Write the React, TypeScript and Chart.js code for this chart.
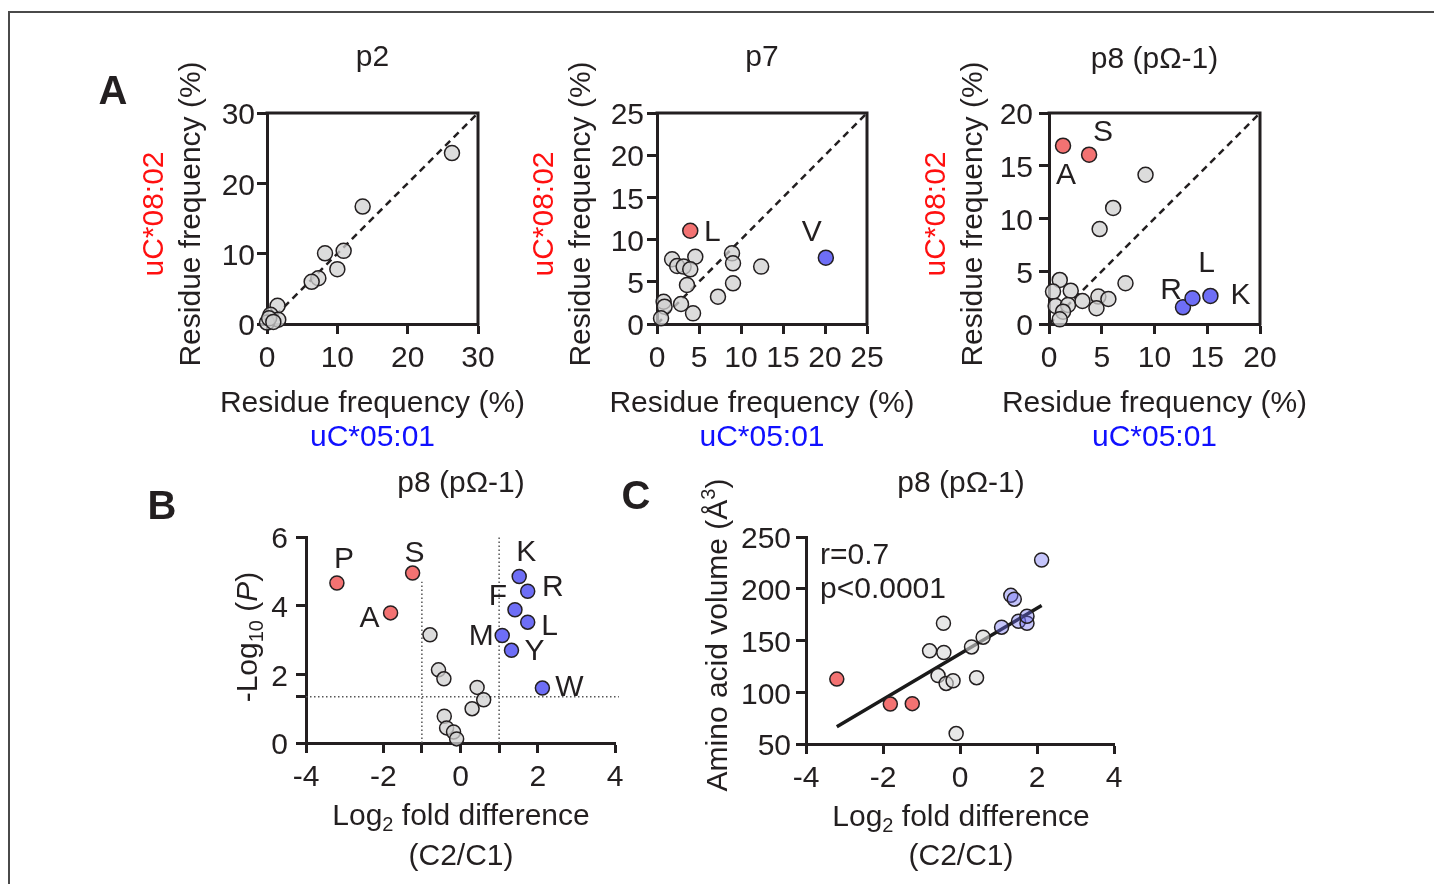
import React, { useEffect, useRef } from 'react';
import { Chart, registerables } from 'chart.js';
Chart.register(...registerables);

const W = 1434;
const H = 884;
const FONT = '"Liberation Sans", Arial, Helvetica, sans-serif';
const INK = '#231f20';
const RED = '#f37272';
const BLUE = '#6e6ef6';
const BLUE_T = 'rgba(110,110,246,0.4)';
const GRAY = 'rgba(208,208,208,0.75)';

// ---------- Panel A: residue frequency (%) uC*05:01 (x) vs uC*08:02 (y)
const p2Ticks = [0, 10, 20, 30];
const p2GrayX = [26.3, 13.6, 10.9, 8.25, 10.0, 7.3, 6.35, 1.5, 0.5, 1.6, 0.0, 0.3, 0.9];
const p2GrayY = [24.3, 16.7, 10.4, 10.05, 7.8, 6.5, 6.0, 2.6, 1.3, 0.6, 0.2, 0.8, 0.3];

const p7Ticks = [0, 5, 10, 15, 20, 25];
const p7GrayX = [1.8, 4.56, 2.4, 3.17, 3.96, 3.57, 8.93, 9.05, 9.05, 12.4, 7.26, 2.86, 4.29, 0.79, 0.9, 0.48];
const p7GrayY = [7.67, 7.97, 6.87, 6.8, 6.48, 4.62, 8.37, 7.19, 4.82, 6.8, 3.24, 2.37, 1.26, 2.64, 2.05, 0.67];
const p7RedNames = ['L'];
const p7RedX = [3.96];
const p7RedY = [11.05];
const p7BlueNames = ['V'];
const p7BlueX = [20.1];
const p7BlueY = [7.86];

const p8Ticks = [0, 5, 10, 15, 20];
const p8GrayX = [9.15, 6.08, 4.8, 7.25, 4.68, 5.63, 4.5, 3.17, 2.06, 1.02, 0.38, 0.63, 1.8, 1.33, 1.02];
const p8GrayY = [14.15, 11.0, 9.0, 3.86, 2.6, 2.37, 1.5, 2.18, 3.16, 4.18, 3.07, 1.71, 1.8, 1.17, 0.44];
const p8RedNames = ['A', 'S'];
const p8RedX = [1.33, 3.8];
const p8RedY = [16.9, 16.05];
const p8BlueNames = ['R', 'L', 'K'];
const p8BlueX = [12.7, 13.6, 15.3];
const p8BlueY = [1.58, 2.44, 2.66];

// ---------- Panels B & C: per-residue values at p8 (pΩ-1)
const residues = ['P', 'A', 'S', 'V', 'T', 'I', 'E', 'C', 'D', 'G', 'Q', 'N', 'H', 'M', 'Y', 'F', 'K', 'L', 'R', 'W'];
const residueGroup = ['c08', 'c08', 'c08', 'ns', 'ns', 'ns', 'ns', 'ns', 'ns', 'ns', 'ns', 'ns', 'ns', 'c05', 'c05', 'c05', 'c05', 'c05', 'c05', 'c05'];
const log2Fold = [-3.2, -1.81, -1.24, -0.79, -0.57, -0.43, -0.42, -0.36, -0.18, -0.1, 0.3, 0.43, 0.6, 1.08, 1.32, 1.41, 1.52, 1.74, 1.74, 2.12];
const negLog10P = [4.66, 3.79, 4.95, 3.15, 2.13, 1.87, 0.78, 0.44, 0.32, 0.12, 1.0, 1.62, 1.26, 3.13, 2.7, 3.88, 4.85, 3.52, 4.42, 1.6];
const volumeA3 = [112.7, 88.6, 89.0, 140.0, 116.1, 166.7, 138.4, 108.5, 111.1, 60.1, 143.8, 114.1, 153.2, 162.9, 193.6, 189.9, 168.6, 166.7, 173.4, 227.8];

const volcanoXTicks = [-4, -2, -1, 0, 1, 2, 4];
const volcanoXLabels = [-4, -2, 0, 2, 4];
const sigLevel = 1.35;
const volcanoYTicks = [0, sigLevel, 2, 4, 6];
const volcanoYLabels = [0, 2, 4, 6];
const foldCutoffs = [-1, 1];
const foldCutoffTop = [4.7, 6];
const sigLineX = [-4, 4.1];

const volXTicks = [-4, -2, 0, 2, 4];
const volYTicks = [50, 100, 150, 200, 250];
const fitLineX = [-3.2, 2.12];
const fitLineY = [66.7, 183.8];

// ---------- helpers
type Seg = { t: string; sub?: boolean; sup?: boolean; italic?: boolean };
type TextItem = { segs: Seg[] | string; x: number; y: number; color?: string; size?: number; bold?: boolean; rotate?: boolean; align?: 'center' | 'left' };
type PLabel = { ds: number; i: number; text: string; dx: number; dy: number };
type AxisSpec = { min: number; max: number; ticks: number[]; labels: number[]; pad: number };
type Spec = { area: { l: number; t: number; r: number; b: number }; x: AxisSpec; y: AxisSpec; datasets: any[]; box?: boolean; texts: TextItem[]; pLabels?: PLabel[] };

const TEXT_SHIFT = 2;

function drawRich(ctx: CanvasRenderingContext2D, item: TextItem) {
  const size = item.size ?? 30;
  const segs: Seg[] = typeof item.segs === 'string' ? [{ t: item.segs }] : item.segs;
  ctx.save();
  ctx.fillStyle = item.color ?? INK;
  ctx.textBaseline = 'middle';
  ctx.textAlign = 'left';
  const fontFor = (sg: Seg) => `${sg.italic ? 'italic ' : ''}${item.bold ? 'bold ' : ''}${sg.sub || sg.sup ? Math.round(size * 0.66) : size}px ${FONT}`;
  let total = 0;
  const widths = segs.map((sg) => {
    ctx.font = fontFor(sg);
    const w = ctx.measureText(sg.t).width;
    total += w;
    return w;
  });
  ctx.translate(item.x, item.y);
  if (item.rotate) ctx.rotate(-Math.PI / 2);
  let x = item.align === 'left' ? 0 : -total / 2;
  segs.forEach((sg, i) => {
    ctx.font = fontFor(sg);
    const dy = (sg.sub ? size * 0.28 : sg.sup ? -size * 0.33 : 0) + TEXT_SHIFT;
    ctx.fillText(sg.t, x, dy);
    x += widths[i];
  });
  ctx.restore();
}

const AW = 100;
const AH = 100;

function scaleOpts(axis: 'x' | 'y', a: AxisSpec) {
  return {
    type: 'linear',
    min: a.min,
    max: a.max,
    afterBuildTicks: (s: any) => {
      s.ticks = a.ticks.map((v) => ({ value: v }));
    },
    afterFit: (s: any) => {
      if (axis === 'x') s.height = AH;
      else s.width = AW;
      s.paddingTop = 0;
      s.paddingBottom = 0;
      s.paddingLeft = 0;
      s.paddingRight = 0;
    },
    ticks: {
      autoSkip: false,
      maxRotation: 0,
      minRotation: 0,
      color: INK,
      padding: a.pad,
      labelOffset: axis === 'y' ? 3 : 0,
      font: { family: FONT, size: 30 },
      callback: (v: number) => (a.labels.includes(v) ? String(v) : ''),
    },
    grid: { drawOnChartArea: false, drawTicks: true, tickLength: 10, tickWidth: 3, tickColor: INK },
    border: { display: true, width: 3, color: INK },
    title: { display: false },
  };
}

function buildConfig(s: Spec): any {
  const { l, t, r, b } = s.area;
  const textPlugin = {
    id: 'texts',
    afterDraw(chart: any) {
      const ctx: CanvasRenderingContext2D = chart.ctx;
      const ca = chart.chartArea;
      if (s.box) {
        ctx.save();
        ctx.strokeStyle = INK;
        ctx.lineWidth = 3;
        ctx.lineCap = 'square';
        ctx.beginPath();
        ctx.moveTo(ca.left, ca.top);
        ctx.lineTo(ca.right, ca.top);
        ctx.lineTo(ca.right, ca.bottom);
        ctx.stroke();
        ctx.restore();
      }
      (s.pLabels || []).forEach((pl) => {
        const el = chart.getDatasetMeta(pl.ds).data[pl.i];
        if (!el) return;
        drawRich(ctx, { segs: pl.text, x: el.x + pl.dx, y: el.y + pl.dy - TEXT_SHIFT, size: 30 });
      });
      s.texts.forEach((tx) => drawRich(ctx, tx));
    },
  };
  return {
    type: 'scatter',
    data: { datasets: s.datasets },
    options: {
      responsive: false,
      maintainAspectRatio: false,
      animation: false,
      devicePixelRatio: 1,
      events: [],
      layout: { padding: { left: l - AW, top: t, right: W - r, bottom: H - b - AH } },
      plugins: { legend: { display: false }, tooltip: { enabled: false }, title: { display: false } },
      scales: { x: scaleOpts('x', s.x), y: scaleOpts('y', s.y) },
    },
    plugins: [textPlugin],
  };
}

const pts = (xs: number[], ys: number[]) => xs.map((x, i) => ({ x, y: ys[i] }));

function pointDs(data: any[], fill: string, radius: number) {
  return {
    data,
    backgroundColor: fill,
    borderColor: INK,
    borderWidth: 1.5,
    pointRadius: radius,
    clip: false,
    order: 0,
  };
}

function lineDs(data: any[], color: string, width: number, dash: number[]) {
  return {
    data,
    showLine: true,
    borderColor: color,
    borderWidth: width,
    borderDash: dash,
    pointRadius: 0,
    clip: false,
    order: 5,
  };
}

function diagDs(max: number) {
  return lineDs([{ x: 0, y: 0 }, { x: max, y: max }], INK, 2.5, [7, 5]);
}

function aTexts(l: number, r: number, title: string | Seg[], titleY: number, letter?: boolean): TextItem[] {
  const cx = (l + r) / 2;
  const out: TextItem[] = [
    { segs: title, x: cx, y: titleY },
    { segs: 'Residue frequency (%)', x: cx, y: 402 },
    { segs: 'uC*05:01', x: cx, y: 436, color: '#1010ff' },
    { segs: 'Residue frequency (%)', x: l - 77, y: 214, rotate: true },
    { segs: 'uC*08:02', x: l - 114, y: 214, rotate: true, color: '#ff1010' },
  ];
  if (letter) out.push({ segs: 'A', x: 113, y: 91, bold: true, size: 40 });
  return out;
}

const omegaTitle: Seg[] = [{ t: 'p8 (p\u03A9-1)' }];

function grp(g: string) {
  return residues.map((_, i) => i).filter((i) => residueGroup[i] === g);
}

const bLabelOffsets: Record<string, [number, number]> = {
  P: [7, -23], S: [2, -19], A: [-21, 6], K: [7, -24], R: [25, -4],
  F: [-17, -13], L: [22, 5], M: [-21, 1], Y: [23, 1], W: [27, 0],
};

function buildSpecs(): Spec[] {
  const specs: Spec[] = [];
  // A - p2
  specs.push({
    area: { l: 267, t: 113, r: 478, b: 324 },
    x: { min: 0, max: 30, ticks: p2Ticks, labels: p2Ticks, pad: 7 },
    y: { min: 0, max: 30, ticks: p2Ticks, labels: p2Ticks, pad: 2 },
    box: true,
    datasets: [diagDs(30), pointDs(pts(p2GrayX, p2GrayY), GRAY, 7.5)],
    texts: aTexts(267, 478, 'p2', 56, true),
  });
  // A - p7
  specs.push({
    area: { l: 657, t: 113, r: 867, b: 324 },
    x: { min: 0, max: 25, ticks: p7Ticks, labels: p7Ticks, pad: 7 },
    y: { min: 0, max: 25, ticks: p7Ticks, labels: p7Ticks, pad: 3 },
    box: true,
    datasets: [
      diagDs(25),
      pointDs(pts(p7GrayX, p7GrayY), GRAY, 7.5),
      pointDs(pts(p7RedX, p7RedY), RED, 7.5),
      pointDs(pts(p7BlueX, p7BlueY), BLUE, 7.5),
    ],
    pLabels: [
      { ds: 2, i: 0, text: p7RedNames[0], dx: 22, dy: 2 },
      { ds: 3, i: 0, text: p7BlueNames[0], dx: -14, dy: -25 },
    ],
    texts: aTexts(657, 867, 'p7', 56),
  });
  // A - p8
  const p8Off: Record<string, [number, number]> = { A: [3, 30], S: [14, -22], R: [-12, -17], L: [14, -35], K: [30, 0] };
  specs.push({
    area: { l: 1049, t: 113, r: 1260, b: 324 },
    x: { min: 0, max: 20, ticks: p8Ticks, labels: p8Ticks, pad: 7 },
    y: { min: 0, max: 20, ticks: p8Ticks, labels: p8Ticks, pad: 6 },
    box: true,
    datasets: [
      diagDs(20),
      pointDs(pts(p8GrayX, p8GrayY), GRAY, 7.5),
      pointDs(pts(p8RedX, p8RedY), RED, 7.5),
      pointDs(pts(p8BlueX, p8BlueY), BLUE, 7.5),
    ],
    pLabels: [
      ...p8RedNames.map((n, i) => ({ ds: 2, i, text: n, dx: p8Off[n][0], dy: p8Off[n][1] })),
      ...p8BlueNames.map((n, i) => ({ ds: 3, i, text: n, dx: p8Off[n][0], dy: p8Off[n][1] })),
    ],
    texts: aTexts(1049, 1260, omegaTitle, 58),
  });
  // B - volcano
  const red = grp('c08');
  const gray = grp('ns');
  const blue = grp('c05');
  const volc = (idx: number[]) => idx.map((i) => ({ x: log2Fold[i], y: negLog10P[i] }));
  specs.push({
    area: { l: 306, t: 537, r: 615, b: 743 },
    x: { min: -4, max: 4, ticks: volcanoXTicks, labels: volcanoXLabels, pad: 7 },
    y: { min: 0, max: 6, ticks: volcanoYTicks, labels: volcanoYLabels, pad: 8 },
    datasets: [
      lineDs([{ x: sigLineX[0], y: sigLevel }, { x: sigLineX[1], y: sigLevel }], '#555', 1.5, [1.5, 2.5]),
      ...foldCutoffs.map((c, i) => lineDs([{ x: c, y: 0 }, { x: c, y: foldCutoffTop[i] }], '#555', 1.5, [1.5, 2.5])),
      pointDs(volc(gray), GRAY, 7),
      pointDs(volc(red), RED, 7),
      pointDs(volc(blue), BLUE, 7),
    ],
    pLabels: [
      ...red.map((ri, i) => ({ ds: 4, i, text: residues[ri], dx: bLabelOffsets[residues[ri]][0], dy: bLabelOffsets[residues[ri]][1] })),
      ...blue.map((ri, i) => ({ ds: 5, i, text: residues[ri], dx: bLabelOffsets[residues[ri]][0], dy: bLabelOffsets[residues[ri]][1] })),
    ],
    texts: [
      { segs: omegaTitle, x: 461, y: 482 },
      { segs: [{ t: '-Log' }, { t: '10', sub: true }, { t: ' (' }, { t: 'P', italic: true }, { t: ')' }], x: 247, y: 637, rotate: true },
      { segs: [{ t: 'Log' }, { t: '2', sub: true }, { t: ' fold difference' }], x: 461, y: 815 },
      { segs: '(C2/C1)', x: 461, y: 855 },
      { segs: 'B', x: 162, y: 506, bold: true, size: 40 },
    ],
  });
  // C - volume correlation
  const vol = (idx: number[]) => idx.map((i) => ({ x: log2Fold[i], y: volumeA3[i] }));
  specs.push({
    area: { l: 806, t: 537, r: 1114, b: 744 },
    x: { min: -4, max: 4, ticks: volXTicks, labels: volXTicks, pad: 7 },
    y: { min: 50, max: 250, ticks: volYTicks, labels: volYTicks, pad: 5 },
    datasets: [
      lineDs(pts(fitLineX, fitLineY), '#1a1a1a', 3.5, []),
      pointDs(vol(gray), 'rgba(215,215,215,0.6)', 7),
      pointDs(vol(red), RED, 7),
      pointDs(vol(blue), BLUE_T, 7),
    ],
    texts: [
      { segs: omegaTitle, x: 961, y: 482 },
      { segs: [{ t: 'Amino acid volume (' }, { t: '\u00C5' }, { t: '3', sup: true }, { t: ')' }], x: 717, y: 635, rotate: true },
      { segs: [{ t: 'Log' }, { t: '2', sub: true }, { t: ' fold difference' }], x: 961, y: 816 },
      { segs: '(C2/C1)', x: 961, y: 855 },
      { segs: 'r=0.7', x: 820, y: 554, align: 'left' },
      { segs: 'p<0.0001', x: 820, y: 588, align: 'left' },
      { segs: 'C', x: 636, y: 496, bold: true, size: 40 },
    ],
  });
  return specs;
}

function Panel({ spec }: { spec: Spec }) {
  const ref = useRef<HTMLCanvasElement>(null);
  useEffect(() => {
    const chart = new Chart(ref.current as HTMLCanvasElement, buildConfig(spec));
    return () => chart.destroy();
  }, [spec]);
  return (
    <canvas
      ref={ref}
      width={W}
      height={H}
      style={{ position: 'absolute', left: 0, top: 0, width: W, height: H, pointerEvents: 'none' }}
    />
  );
}

const SPECS = buildSpecs();

export default function App() {
  return (
    <div style={{ position: 'absolute', left: 0, top: 0, width: W, height: H, background: '#fff', overflow: 'hidden' }}>
      <div
        style={{
          position: 'absolute', left: 8, top: 11, right: 0, bottom: 0,
          borderTop: '2px solid #4a4a4a', borderLeft: '2px solid #4a4a4a',
        }}
      />
      {SPECS.map((s, i) => (
        <Panel key={i} spec={s} />
      ))}
    </div>
  );
}
